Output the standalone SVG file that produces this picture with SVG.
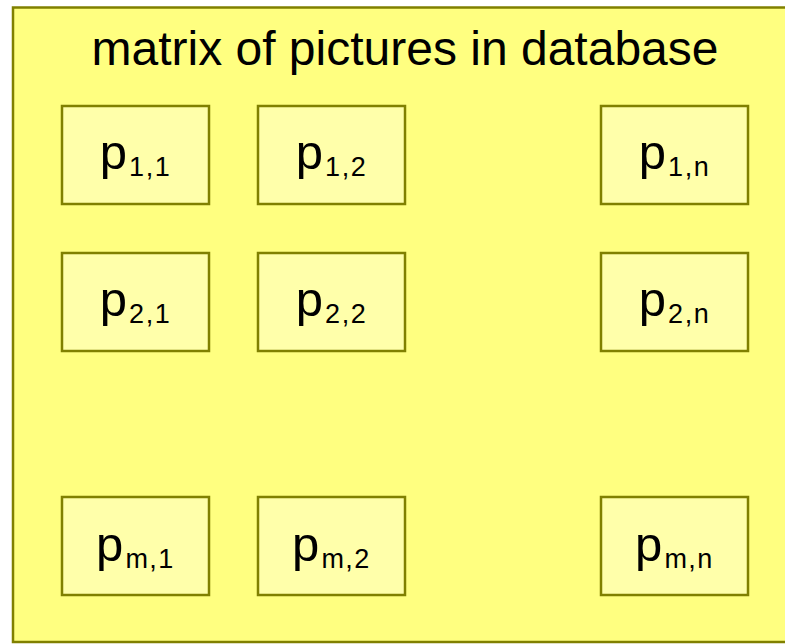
<svg xmlns="http://www.w3.org/2000/svg" width="785" height="644" viewBox="0 0 785 644">
<style>
.frame{fill:#FFFF80;stroke:#808000;stroke-width:2.5}
.cell{fill:#FFFFAA;stroke:#808000;stroke-width:2.5}
.t{font-family:"Liberation Sans",Arial,sans-serif;fill:#000}
.title{font-size:48px}
.p{font-size:49px}
.sub{font-size:27px;letter-spacing:1.5px}
</style>
<rect width="785" height="644" fill="#FFFFFF"/>
<g id="database">
<rect class="frame" x="13" y="7.5" width="800" height="634.5"/>
<text class="t title" x="405" y="65" text-anchor="middle">matrix of pictures in database</text>
</g>
<g id="connectors"></g>
<g id="p11"><rect class="cell" x="62" y="106" width="147" height="98"/><text class="t p" x="135.5" y="169" text-anchor="middle">p<tspan class="sub" dx="2" dy="6.5">1,1</tspan></text></g>
<g id="p12"><rect class="cell" x="258" y="106" width="147" height="98"/><text class="t p" x="331.5" y="169" text-anchor="middle">p<tspan class="sub" dx="2" dy="6.5">1,2</tspan></text></g>
<g id="p1n"><rect class="cell" x="601" y="106" width="147" height="98"/><text class="t p" x="674.5" y="169" text-anchor="middle">p<tspan class="sub" dx="2" dy="6.5">1,n</tspan></text></g>
<g id="p21"><rect class="cell" x="62" y="253" width="147" height="98"/><text class="t p" x="135.5" y="316" text-anchor="middle">p<tspan class="sub" dx="2" dy="6.5">2,1</tspan></text></g>
<g id="p22"><rect class="cell" x="258" y="253" width="147" height="98"/><text class="t p" x="331.5" y="316" text-anchor="middle">p<tspan class="sub" dx="2" dy="6.5">2,2</tspan></text></g>
<g id="p2n"><rect class="cell" x="601" y="253" width="147" height="98"/><text class="t p" x="674.5" y="316" text-anchor="middle">p<tspan class="sub" dx="2" dy="6.5">2,n</tspan></text></g>
<g id="pm1"><rect class="cell" x="62" y="497" width="147" height="98"/><text class="t p" x="135.5" y="561" text-anchor="middle">p<tspan class="sub" dx="2" dy="6.5">m,1</tspan></text></g>
<g id="pm2"><rect class="cell" x="258" y="497" width="147" height="98"/><text class="t p" x="331.5" y="561" text-anchor="middle">p<tspan class="sub" dx="2" dy="6.5">m,2</tspan></text></g>
<g id="pmn"><rect class="cell" x="601" y="497" width="147" height="98"/><text class="t p" x="674.5" y="561" text-anchor="middle">p<tspan class="sub" dx="2" dy="6.5">m,n</tspan></text></g>
</svg>
